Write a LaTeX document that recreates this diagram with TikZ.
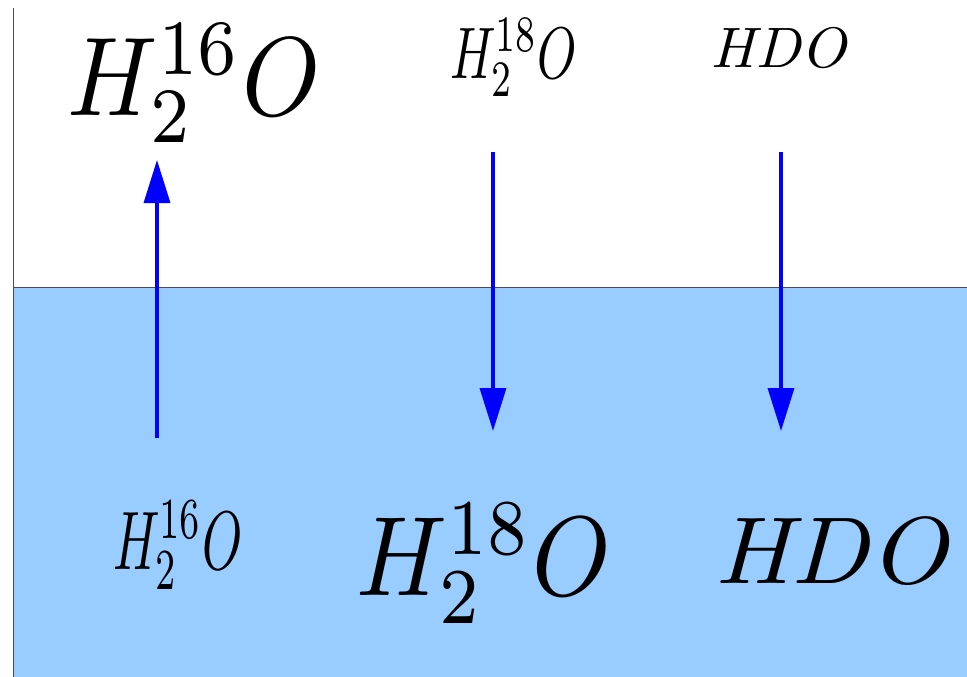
\documentclass[tikz,border=0pt]{standalone}
\usetikzlibrary{arrows.meta}
\definecolor{water}{HTML}{99CCFF}
\tikzset{
  arr/.style={draw=blue, line width=3.5pt, -{Triangle[length=43pt,width=26pt]}},
  lbl/.style={inner sep=0pt, anchor=base west, transform shape},
  edge/.style={draw=black!70, line width=1pt}
}
\begin{document}
\begin{tikzpicture}[x=1pt,y=-1pt]
\useasboundingbox (0,0) rectangle (967,677);
\fill[water] (13,287) rectangle (967,677);
\draw[edge] (13,8) -- (13,677);
\draw[edge] (13,287) -- (967,287);
% labels
\node[lbl, xscale=9.9, yscale=11.2] (t16) at (66,115) {$H_2^{16}O$};
\node[lbl, xscale=5.0, yscale=7.3] (t18) at (449,78) {$H_2^{18}O$};
\node[lbl, xscale=6.0, yscale=5.7] (thdo) at (709.5,68) {$\mathit{HDO}$};
\node[lbl, xscale=5.1, yscale=8.3] (b16) at (112,569) {$H_2^{16}O$};
\node[lbl, xscale=9.95, yscale=11.3] (b18) at (355,595) {$H_2^{18}O$};
\node[lbl, xscale=10.3, yscale=9.5] (bhdo) at (712,583) {$\mathit{HDO}$};
% arrows
\coordinate (u1) at (157,438);
\coordinate (u2) at (157,160);
\coordinate (d1a) at (493,152);
\coordinate (d1b) at (493,431);
\coordinate (d2a) at (781,152);
\coordinate (d2b) at (781,431);
\draw[arr] (u1) -- (u2);
\draw[arr] (d1a) -- (d1b);
\draw[arr] (d2a) -- (d2b);
\end{tikzpicture}
\end{document}
